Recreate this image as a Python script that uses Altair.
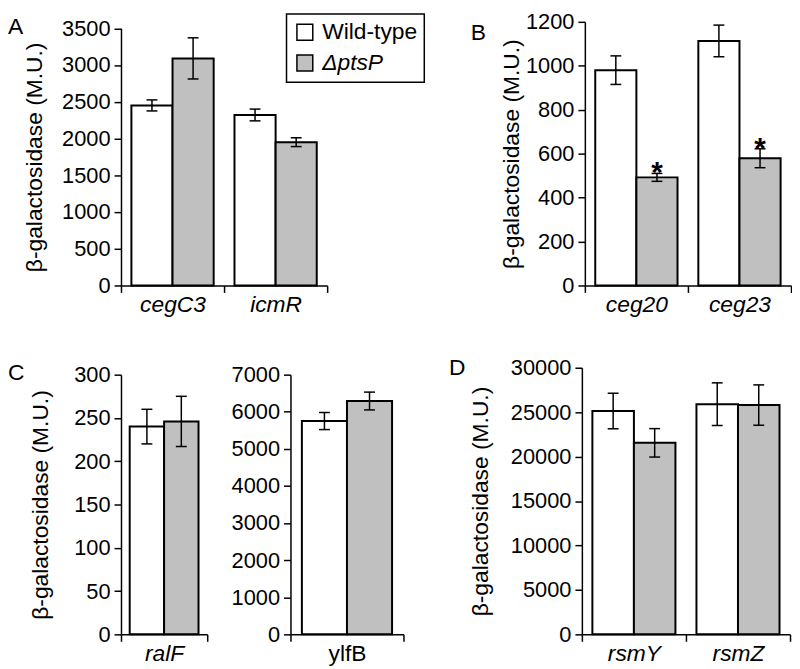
import altair as alt
import pandas as pd

FONT = "Liberation Sans"
STRAINS = ["Wild-type", "ΔptsP"]
FILLS = ["#ffffff", "#c0c0c0"]
YTITLE = "β-galactosidase (M.U.)"

# Panel A
genes_a = ["cegC3", "icmR"]
wt_a = [2450, 2320]
wt_err_a = [75, 80]
mut_a = [3090, 1950]
mut_err_a = [280, 60]
yticks_a = [0, 500, 1000, 1500, 2000, 2500, 3000, 3500]

# Panel B
genes_b = ["ceg20", "ceg23"]
wt_b = [980, 1113]
wt_err_b = [65, 72]
mut_b = [492, 579]
mut_err_b = [18, 43]
stars_b = ["*", "*"]
yticks_b = [0, 200, 400, 600, 800, 1000, 1200]

# Panel C (left)
genes_c = ["ralF"]
wt_c = [240]
wt_err_c = [20]
mut_c = [246]
mut_err_c = [29]
yticks_c = [0, 50, 100, 150, 200, 250, 300]

# Panel C (right)
genes_c2 = ["ylfB"]
wt_c2 = [5750]
wt_err_c2 = [230]
mut_c2 = [6290]
mut_err_c2 = [240]
yticks_c2 = [0, 1000, 2000, 3000, 4000, 5000, 6000, 7000]

# Panel D
genes_d = ["rsmY", "rsmZ"]
wt_d = [25130, 25900]
wt_err_d = [2000, 2400]
mut_d = [21550, 25800]
mut_err_d = [1600, 2270]
yticks_d = [0, 5000, 10000, 15000, 20000, 25000, 30000]


def make_df(genes, wt, wt_err, mut, mut_err, stars=None):
    rows = []
    for i, g in enumerate(genes):
        rows.append(dict(gene=g, strain=STRAINS[0], value=wt[i],
                         lo=wt[i] - wt_err[i], hi=wt[i] + wt_err[i], star=""))
        rows.append(dict(gene=g, strain=STRAINS[1], value=mut[i],
                         lo=mut[i] - mut_err[i], hi=mut[i] + mut_err[i],
                         star=(stars[i] if stars else "")))
    return pd.DataFrame(rows)


def panel(df, genes, yticks, width, height, letter, letter_x, letter_y,
          yrange=None, xrange=None, italic=True, title=True, title_x=-85,
          legend=None, stars=False):
    ys = dict(domain=[0, yticks[-1]], nice=False, zero=True)
    if yrange:
        ys["range"] = yrange
    yscale = alt.Scale(**ys)
    xs = dict(paddingInner=0, paddingOuter=0)
    if xrange:
        xs["range"] = xrange
    xscale = alt.Scale(**xs)
    yr = yrange if yrange else [height, 0]
    ya = dict(values=yticks, format="d")
    if title:
        ya.update(title=YTITLE, titleX=title_x, titleY=(yr[0] + yr[1]) / 2,
                  titleBaseline="middle", titleAngle=270)
    else:
        ya["title"] = None
    yaxis = alt.Axis(**ya)
    xaxis = alt.Axis(title=None, tickBand="extent", labelAngle=0,
                     labelFontStyle=("italic" if italic else "normal"))

    base = alt.Chart(df)
    x = alt.X("gene:N", sort=genes, scale=xscale, axis=xaxis)
    xo = alt.XOffset("strain:N", sort=STRAINS,
                     scale=alt.Scale(paddingInner=0, paddingOuter=0.253))
    fill_kw = dict(sort=STRAINS, scale=alt.Scale(domain=STRAINS, range=FILLS))
    fill_kw["legend"] = legend
    bars = base.mark_bar(stroke="black", strokeWidth=2).encode(
        x=x, xOffset=xo,
        y=alt.Y("value:Q", scale=yscale, axis=yaxis),
        fill=alt.Fill("strain:N", **fill_kw),
    )
    rule = base.mark_rule(color="black", strokeWidth=1.5).encode(
        x=x, xOffset=xo,
        y=alt.Y("lo:Q", scale=yscale, axis=yaxis), y2="hi:Q",
    )
    cap_hi = base.mark_tick(color="black", thickness=1.5, size=11, opacity=1,
                            orient="horizontal").encode(
        x=x, xOffset=xo, y=alt.Y("hi:Q", scale=yscale, axis=yaxis))
    cap_lo = base.mark_tick(color="black", thickness=1.5, size=11, opacity=1,
                            orient="horizontal").encode(
        x=x, xOffset=xo, y=alt.Y("lo:Q", scale=yscale, axis=yaxis))
    lab = alt.Chart(pd.DataFrame({"t": [letter]})).mark_text(
        font=FONT, fontSize=23, align="left", baseline="top", color="black"
    ).encode(x=alt.value(letter_x), y=alt.value(letter_y), text="t:N")
    layers = [bars, rule, cap_hi, cap_lo, lab]
    if stars:
        st = base.transform_filter("datum.star != ''").mark_text(
            font=FONT, fontSize=30, fontWeight="bold", baseline="alphabetic",
            dy=9, color="black"
        ).encode(x=x, xOffset=xo, y=alt.Y("hi:Q", scale=yscale, axis=yaxis),
                 text="star:N")
        layers.append(st)
    return alt.layer(*layers).properties(width=width, height=height)


H1 = 266
H2 = 269

legend_a = alt.Legend(
    orient="none", legendX=167, legendY=-8, title=None,
    symbolType="square", symbolSize=256, symbolStrokeColor="black",
    symbolStrokeWidth=1.5, labelFont=FONT, labelFontSize=23,
    labelColor="black", labelOffset=6, rowPadding=7, padding=7,
    strokeColor="black", fillColor="white",
    labelFontStyle=alt.ExprRef("datum.label == 'Wild-type' ? 'normal' : 'italic'"),
)

pA = panel(make_df(genes_a, wt_a, wt_err_a, mut_a, mut_err_a), genes_a, yticks_a,
           208, H1, "A", -114, -6, yrange=[H1, 6.5], title_x=-87, legend=legend_a)
pB = panel(make_df(genes_b, wt_b, wt_err_b, mut_b, mut_err_b, stars_b), genes_b,
           yticks_b, 208, H1, "B", -115, 0, title_x=-74, stars=True)
pC = panel(make_df(genes_c, wt_c, wt_err_c, mut_c, mut_err_c), genes_c, yticks_c,
           87, H2, "C", -114, -6, yrange=[H2, 7], title_x=-81)
pC2 = panel(make_df(genes_c2, wt_c2, wt_err_c2, mut_c2, mut_err_c2), genes_c2,
            yticks_c2, 210, H2, "", 0, 0, yrange=[H2, 7], xrange=[0, 114],
            italic=False, title=False)
pD = panel(make_df(genes_d, wt_d, wt_err_d, mut_d, mut_err_d), genes_d, yticks_d,
           210, H2, "D", -134, -11, title_x=-102)

row1 = alt.hconcat(pA, pB, spacing=260, bounds="flush").resolve_scale(
    fill="independent", xOffset="independent").resolve_legend(fill="independent")
row2 = alt.hconcat(pC, pC2, pD, spacing=84, bounds="flush").resolve_scale(
    fill="independent", xOffset="independent").resolve_legend(fill="independent")

chart = alt.vconcat(row1, row2, spacing=41).resolve_scale(
    fill="independent", xOffset="independent").resolve_legend(
    fill="independent").properties(padding=0).configure_view(
    stroke=None).configure_axis(
    labelFont=FONT, labelFontSize=22, labelColor="black",
    titleFont=FONT, titleFontSize=23, titleFontWeight="normal", titleColor="black",
    domainColor="black", domainWidth=1.5, tickColor="black", tickWidth=1.5,
    tickSize=7, grid=False).configure_axisY(labelPadding=4).configure_axisX(
    labelPadding=1, labelFontSize=23).configure_legend(strokeWidth=1.5)

chart.save("out.html", embed_options={"renderer": "svg", "actions": False})
